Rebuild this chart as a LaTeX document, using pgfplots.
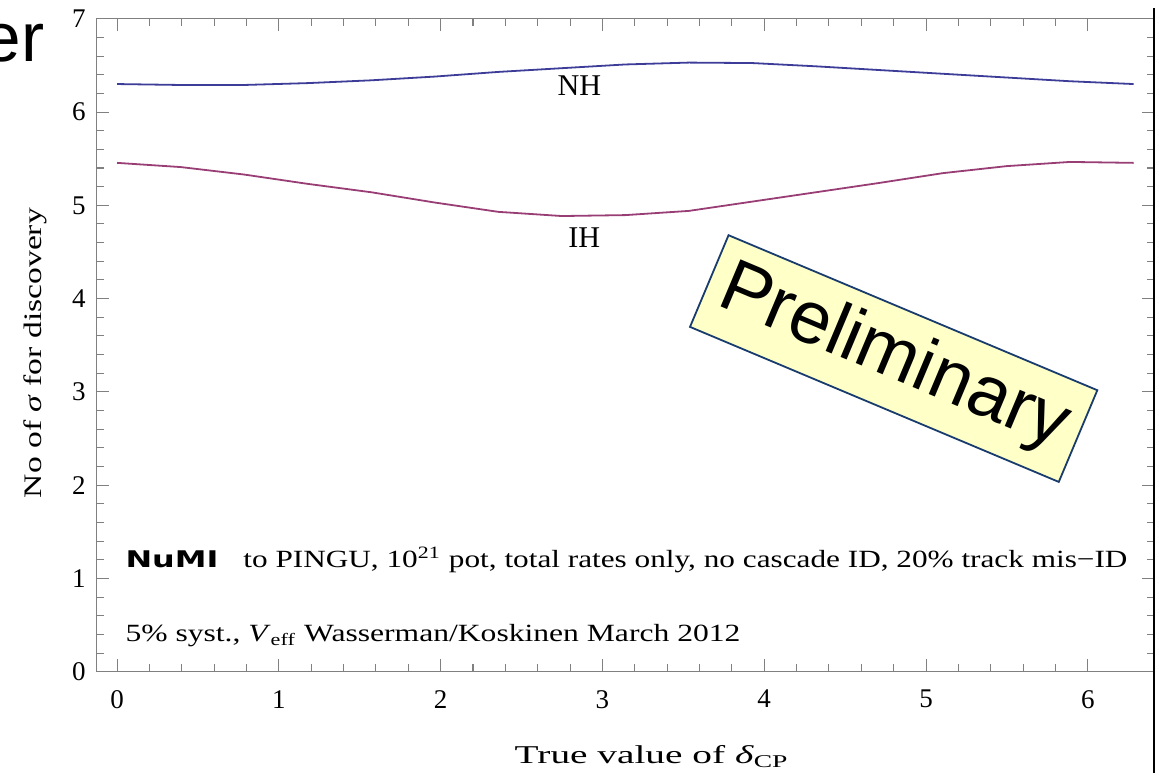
\documentclass[border=0pt]{standalone}
\usepackage{fontspec}
\setmainfont{Liberation Serif}
\newfontfamily\arial{Liberation Sans}
\newfontfamily\verd{DejaVu Sans}
\usepackage{graphicx}
\usepackage{pgfplots}
\pgfplotsset{compat=1.18}
\definecolor{nh}{rgb}{0.24,0.24,0.6}
\definecolor{ih}{rgb}{0.6,0.24,0.46}
\definecolor{fr}{RGB}{128,128,128}
\definecolor{prelimfill}{RGB}{255,255,200}
\definecolor{prelimdraw}{RGB}{25,60,110}

\pgfplotstableread{
x y
0.000 6.300
0.393 6.290
0.785 6.290
1.178 6.310
1.571 6.340
1.963 6.380
2.356 6.430
2.749 6.470
3.142 6.510
3.534 6.530
3.927 6.525
4.320 6.490
4.712 6.450
5.105 6.410
5.498 6.370
5.890 6.330
6.283 6.300
}\nhdata

\pgfplotstableread{
x y
0.000 5.455
0.393 5.410
0.785 5.330
1.178 5.230
1.571 5.140
1.963 5.030
2.356 4.930
2.749 4.885
3.142 4.895
3.534 4.940
3.927 5.040
4.320 5.140
4.712 5.240
5.105 5.345
5.498 5.420
5.890 5.465
6.283 5.455
}\ihdata

\begin{document}
\begin{tikzpicture}
\useasboundingbox (-42.98pt,-45.02pt) rectangle (473.02pt,298.53pt);
\clip (-42.98pt,-45.02pt) rectangle (473.02pt,298.53pt);
\begin{axis}[
 at={(0pt,0pt)}, anchor=south west,
 scale only axis, width=469.9pt, height=290.2pt,
 xmin=-0.1257, xmax=6.409, ymin=0, ymax=7,
 xtick={0,...,6}, ytick={0,...,7},
 minor x tick num=4, minor y tick num=4,
 tick align=inside,
 major tick length=5.5pt, minor tick length=3.3pt,
 axis line style={fr, line width=0.45pt},
 tick style={fr, line width=0.45pt},
 tick label style={font=\fontsize{12}{14}\selectfont},
 /pgf/number format/assume math mode=true,
 xticklabel style={yshift=-4.7pt},
 yticklabel style={xshift=-1.4pt},
 clip=false,
]
\addplot[nh, line width=0.8pt] table[x=x,y=y] {\nhdata};
\addplot[ih, line width=0.8pt] table[x=x,y=y] {\ihdata};
\node[font=\fontsize{13.4}{14}\selectfont, inner sep=0pt] at (axis cs:2.857,6.28) {NH};
\node[font=\fontsize{13.4}{14}\selectfont, inner sep=0pt] at (axis cs:2.888,4.649) {IH};
\node[rotate=-22.8, fill=prelimfill, draw=prelimdraw, line width=0.8pt,
      minimum width=177.8pt, minimum height=44.2pt, inner sep=0pt,
      font=\arial\fontsize{33}{33}\selectfont] at (axis cs:4.80,3.357) {Preliminary};
\end{axis}
% texts outside / annotations (pt coordinates relative to axis lower-left)
\node[anchor=base west, inner sep=0pt, font=\verd\bfseries\fontsize{10.2}{12}\selectfont]
  at (12.6pt,46.2pt) {\resizebox{41.3pt}{\height}{NuMI}};
\node[anchor=base west, inner sep=0pt, font=\fontsize{11}{13}\selectfont]
  at (65.0pt,46.2pt) {\resizebox{392.9pt}{\height}{to PINGU, 10\textsuperscript{21} pot, total rates only, no cascade ID, 20\% track mis−ID}};
\node[anchor=base west, inner sep=0pt, font=\fontsize{11}{13}\selectfont]
  at (12.6pt,13.3pt) {\resizebox{273.3pt}{\height}{5\% syst., \textit{V}\textsubscript{eff} Wasserman/Koskinen March 2012}};
\node[anchor=base, inner sep=0pt, rotate=90, font=\fontsize{11.2}{13}\selectfont]
  at (-24.4pt,141.6pt) {\resizebox{128.9pt}{\height}{No of \textit{σ} for discovery}};
\node[anchor=base, inner sep=0pt, font=\fontsize{11.4}{13}\selectfont]
  at (246.8pt,-41.0pt) {\resizebox{122pt}{\height}{True value of \textit{δ}\textsubscript{CP}}};
\node[anchor=base east, inner sep=0pt, font=\arial\fontsize{30.8}{32}\selectfont]
  at (-23.0pt,271.1pt) {er};
\draw[black, line width=0.6pt] (469.9pt,294.9pt) -- (469.9pt,-46pt);
\end{tikzpicture}
\end{document}
